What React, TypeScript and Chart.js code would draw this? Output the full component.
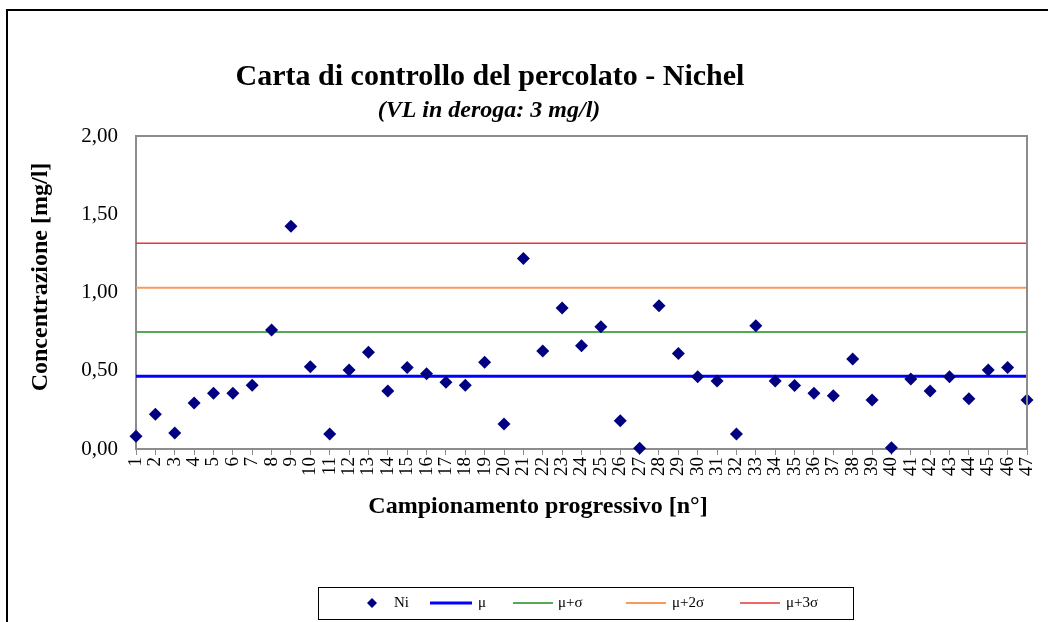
import React, { useEffect, useRef } from 'react';
import { Chart, registerables } from 'chart.js';

Chart.register(...registerables);

const CATEGORIES: string[] = [
  '1','2','3','4','5','6','7','8','9','10','11','12','13','14','15','16','17','18','19','20',
  '21','22','23','24','25','26','27','28','29','30','31','32','33','34','35','36','37','38','39','40',
  '41','42','43','44','45','46','47'
];

const NI_VALUES: number[] = [
  0.081, 0.222, 0.102, 0.294, 0.356, 0.356, 0.407, 0.760, 1.423, 0.526,
  0.096, 0.505, 0.618, 0.371, 0.520, 0.481, 0.426, 0.407, 0.554, 0.160,
  1.218, 0.626, 0.901, 0.660, 0.781, 0.181, 0.004, 0.916, 0.611, 0.462,
  0.434, 0.096, 0.788, 0.434, 0.405, 0.356, 0.341, 0.575, 0.313, 0.008,
  0.447, 0.371, 0.462, 0.321, 0.505, 0.520, 0.313
];

const MU = 0.465;
const MU_1S = 0.748;
const MU_2S = 1.031;
const MU_3S = 1.314;

const SERIES_LABELS = ['Ni', 'μ', 'μ+σ', 'μ+2σ', 'μ+3σ'];
const Y_MIN = 0;
const Y_MAX = 2;
const Y_STEP = 0.5;

const TITLE = 'Carta di controllo del percolato - Nichel';
const SUBTITLE = '(VL in deroga: 3 mg/l)';
const Y_TITLE = 'Concentrazione [mg/l]';
const X_TITLE = 'Campionamento progressivo [n°]';

const FONT = '"Liberation Serif", "Times New Roman", serif';

const decorPlugin = {
  id: 'decor',
  afterDraw(chart: any) {
    const ctx = chart.ctx as CanvasRenderingContext2D;
    const area = chart.chartArea;
    ctx.save();

    // outer frame (left and top)
    ctx.strokeStyle = '#000';
    ctx.lineWidth = 2;
    ctx.beginPath();
    ctx.moveTo(7, 622);
    ctx.lineTo(7, 10);
    ctx.lineTo(1048, 10);
    ctx.stroke();

    // plot border top/right
    ctx.strokeStyle = '#8c8c8c';
    ctx.lineWidth = 2;
    ctx.beginPath();
    ctx.moveTo(area.left, area.top);
    ctx.lineTo(area.right, area.top);
    ctx.lineTo(area.right, area.bottom);
    ctx.stroke();

    // titles
    ctx.fillStyle = '#000';
    ctx.textAlign = 'center';
    ctx.textBaseline = 'middle';
    ctx.font = `bold 30px ${FONT}`;
    ctx.fillText(TITLE, 490, 77);
    ctx.font = `italic bold 24px ${FONT}`;
    ctx.fillText(SUBTITLE, 489, 111);

    // axis titles
    ctx.font = `bold 24px ${FONT}`;
    ctx.fillText(X_TITLE, 538, 507);
    ctx.save();
    ctx.translate(41, 277);
    ctx.rotate(-Math.PI / 2);
    ctx.fillText(Y_TITLE, 0, 0);
    ctx.restore();

    // legend
    const lx = 318, ly = 587, lw = 535, lh = 32;
    ctx.fillStyle = '#fff';
    ctx.fillRect(lx, ly, lw, lh);
    ctx.strokeStyle = '#000';
    ctx.lineWidth = 1;
    ctx.strokeRect(lx + 0.5, ly + 0.5, lw, lh);
    const cy = ly + lh / 2;
    const ds = chart.data.datasets;
    ctx.font = `15px ${FONT}`;
    ctx.textAlign = 'left';
    // Ni diamond
    ctx.fillStyle = ds[0].backgroundColor;
    ctx.beginPath();
    ctx.moveTo(372, cy - 5);
    ctx.lineTo(377, cy);
    ctx.lineTo(372, cy + 5);
    ctx.lineTo(367, cy);
    ctx.closePath();
    ctx.fill();
    ctx.fillStyle = '#000';
    ctx.fillText(ds[0].label, 394, cy);
    const items = [
      { i: 1, x0: 430, x1: 472, tx: 478 },
      { i: 2, x0: 513, x1: 553, tx: 558 },
      { i: 3, x0: 626, x1: 666, tx: 672 },
      { i: 4, x0: 740, x1: 780, tx: 786 },
    ];
    for (const it of items) {
      ctx.strokeStyle = ds[it.i].borderColor;
      ctx.lineWidth = Math.max(1.5, ds[it.i].borderWidth);
      ctx.beginPath();
      ctx.moveTo(it.x0, cy);
      ctx.lineTo(it.x1, cy);
      ctx.stroke();
      ctx.fillStyle = '#000';
      ctx.fillText(ds[it.i].label, it.tx, cy);
    }
    ctx.restore();
  },
};

export default function App() {
  const ref = useRef<HTMLCanvasElement | null>(null);

  useEffect(() => {
    if (!ref.current) return;
    const constLine = (v: number) => CATEGORIES.map(() => v);
    const chart = new Chart(ref.current, {
      type: 'line',
      data: {
        labels: CATEGORIES,
        datasets: [
          {
            label: SERIES_LABELS[0],
            data: NI_VALUES,
            showLine: false,
            pointStyle: 'rectRot',
            pointRadius: 6.5,
            pointBackgroundColor: '#000080',
            pointBorderColor: '#000080',
            backgroundColor: '#000080',
            borderColor: '#000080',
            borderWidth: 0,
            clip: false,
            order: 0,
          },
          {
            label: SERIES_LABELS[1],
            data: constLine(MU),
            borderColor: '#0000ff',
            backgroundColor: '#0000ff',
            borderWidth: 3,
            pointRadius: 0,
            order: 1,
          },
          {
            label: SERIES_LABELS[2],
            data: constLine(MU_1S),
            borderColor: '#55a855',
            backgroundColor: '#55a855',
            borderWidth: 2,
            pointRadius: 0,
            order: 2,
          },
          {
            label: SERIES_LABELS[3],
            data: constLine(MU_2S),
            borderColor: '#f79a5c',
            backgroundColor: '#f79a5c',
            borderWidth: 2,
            pointRadius: 0,
            order: 3,
          },
          {
            label: SERIES_LABELS[4],
            data: constLine(MU_3S),
            borderColor: '#ec3434',
            backgroundColor: '#ec3434',
            borderWidth: 1.5,
            pointRadius: 0,
            order: 4,
          },
        ],
      },
      options: {
        responsive: false,
        animation: false,
        layout: { padding: { left: 20, top: 136, right: 21, bottom: 0 } },
        plugins: {
          legend: { display: false },
          title: { display: false },
          tooltip: { enabled: false },
        },
        scales: {
          x: {
            type: 'category',
            offset: false,
            grid: {
              display: true,
              drawOnChartArea: false,
              drawTicks: true,
              tickLength: 6,
              color: '#8c8c8c',
            },
            border: { display: true, color: '#8c8c8c', width: 2 },
            ticks: {
              autoSkip: false,
              maxRotation: 90,
              minRotation: 90,
              padding: 2,
              color: '#000',
              font: { family: FONT, size: 19 },
            },
            afterFit: (scale: any) => {
              scale.height = 622 - 449;
              scale.paddingLeft = 0;
              scale.paddingRight = 0;
            },
          },
          y: {
            min: Y_MIN,
            max: Y_MAX,
            grid: { display: false, drawTicks: false },
            border: { display: true, color: '#8c8c8c', width: 2 },
            ticks: {
              stepSize: Y_STEP,
              padding: 18,
              color: '#000',
              font: { family: FONT, size: 21 },
              callback: (v: any) => Number(v).toFixed(2).replace('.', ','),
            },
            afterFit: (scale: any) => {
              scale.width = 136 - 20;
              scale.paddingTop = 0;
              scale.paddingBottom = 0;
            },
          },
        },
      },
      plugins: [decorPlugin],
    });
    return () => chart.destroy();
  }, []);

  return (
    <div style={{ position: 'absolute', left: 0, top: 0, width: 1048, height: 622, background: '#fff' }}>
      <canvas ref={ref} width={1048} height={622} style={{ display: 'block', width: 1048, height: 622 }} />
    </div>
  );
}
